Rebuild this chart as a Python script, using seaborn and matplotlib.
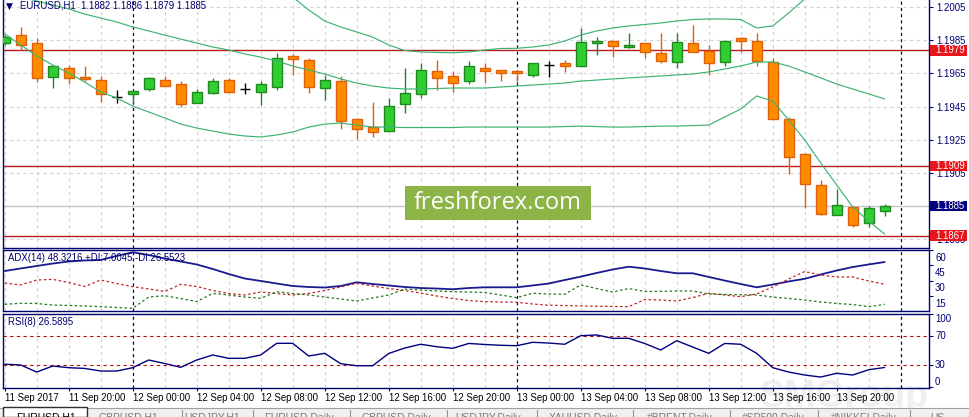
import numpy as np
import pandas as pd
import matplotlib
matplotlib.use("Agg")
import matplotlib.pyplot as plt
import matplotlib.transforms as mtransforms
from matplotlib.patches import Rectangle
import seaborn as sns

# EURUSD H1, first bar 11 Sep 2017 16:00
opens = [1.19832, 1.19883, 1.19832, 1.19630, 1.19681, 1.19630, 1.19609, 1.19510,
         1.19526, 1.19554, 1.19609, 1.19584, 1.19470, 1.19530, 1.19609, 1.19556,
         1.19540, 1.19570, 1.19754, 1.19731, 1.19560, 1.19602, 1.19373, 1.19324,
         1.19302, 1.19464, 1.19524, 1.19663, 1.19633, 1.19602, 1.19681, 1.19669,
         1.19663, 1.19639, 1.19701, 1.19711, 1.19697, 1.19832, 1.19848, 1.19812,
         1.19832, 1.19772, 1.19721, 1.19832, 1.19788, 1.19721, 1.19863, 1.19848,
         1.19721, 1.19373, 1.19163, 1.18974, 1.18792, 1.18841, 1.18744, 1.18820]
highs = [1.19880, 1.19929, 1.19863, 1.19698, 1.19701, 1.19695, 1.19635, 1.19550,
         1.19546, 1.19630, 1.19635, 1.19604, 1.19554, 1.19621, 1.19621, 1.19590,
         1.19604, 1.19772, 1.19768, 1.19745, 1.19641, 1.19635, 1.19383, 1.19479,
         1.19500, 1.19681, 1.19711, 1.19731, 1.19665, 1.19725, 1.19715, 1.19669,
         1.19663, 1.19711, 1.19725, 1.19731, 1.19923, 1.19872, 1.19848, 1.19893,
         1.19832, 1.19893, 1.19893, 1.19943, 1.19822, 1.19848, 1.19869, 1.19893,
         1.19742, 1.19387, 1.19171, 1.19006, 1.18951, 1.18851, 1.18851, 1.18860]
lows = [1.19820, 1.19792, 1.19600, 1.19560, 1.19584, 1.19604, 1.19479, 1.19470,
        1.19470, 1.19544, 1.19572, 1.19449, 1.19470, 1.19524, 1.19530, 1.19526,
        1.19460, 1.19550, 1.19641, 1.19530, 1.19490, 1.19312, 1.19252, 1.19268,
        1.19302, 1.19409, 1.19500, 1.19550, 1.19540, 1.19584, 1.19590, 1.19604,
        1.19594, 1.19630, 1.19630, 1.19660, 1.19697, 1.19762, 1.19751, 1.19802,
        1.19742, 1.19711, 1.19681, 1.19782, 1.19641, 1.19697, 1.19782, 1.19695,
        1.19372, 1.19040, 1.18838, 1.18792, 1.18792, 1.18720, 1.18720, 1.18790]
closes = [1.19869, 1.19820, 1.19621, 1.19695, 1.19621, 1.19618, 1.19524, 1.19510,
          1.19544, 1.19621, 1.19572, 1.19464, 1.19540, 1.19602, 1.19540, 1.19556,
          1.19584, 1.19742, 1.19739, 1.19570, 1.19609, 1.19363, 1.19314, 1.19294,
          1.19453, 1.19530, 1.19669, 1.19621, 1.19590, 1.19695, 1.19663, 1.19651,
          1.19651, 1.19711, 1.19701, 1.19693, 1.19842, 1.19846, 1.19818, 1.19822,
          1.19782, 1.19727, 1.19842, 1.19782, 1.19711, 1.19848, 1.19844, 1.19727,
          1.19375, 1.19147, 1.18980, 1.18800, 1.18853, 1.18732, 1.18835, 1.18850]

nan = np.nan
bb_upper = [nan] * 18 + [
    1.20112, 1.20034, 1.19967, 1.19931, 1.19901, 1.19870, 1.19822, 1.19789,
    1.19780, 1.19777, 1.19775, 1.19780, 1.19792, 1.19801, 1.19802, 1.19810,
    1.19822, 1.19846, 1.19882, 1.19907, 1.19925, 1.19937, 1.19946, 1.19955,
    1.19967, 1.19976, 1.19979, 1.19979, 1.19976, 1.19925, 1.19937, 1.20016,
    1.20100] + [nan] * 5
bb_middle = [1.20143, 1.20112, 1.20088, 1.20064, 1.20040, 1.20009, 1.19985, 1.19961,
             1.19931, 1.19907, 1.19882, 1.19858, 1.19834, 1.19810, 1.19792, 1.19768,
             1.19749, 1.19725, 1.19695, 1.19671, 1.19647, 1.19617, 1.19592, 1.19574,
             1.19562, 1.19556, 1.19556, 1.19559, 1.19562, 1.19562, 1.19562, 1.19568,
             1.19574, 1.19580, 1.19586, 1.19592, 1.19604, 1.19610, 1.19617, 1.19623,
             1.19629, 1.19635, 1.19641, 1.19647, 1.19659, 1.19677, 1.19695, 1.19719,
             1.19719, 1.19695, 1.19659, 1.19623, 1.19586, 1.19556, 1.19526, 1.19496]
bb_lower = [1.19889, 1.19822, 1.19756, 1.19701, 1.19653, 1.19598, 1.19538, 1.19502,
            1.19453, 1.19417, 1.19381, 1.19344, 1.19320, 1.19302, 1.19284, 1.19272,
            1.19266, 1.19278, 1.19296, 1.19326, 1.19344, 1.19350, 1.19338, 1.19326,
            1.19326, 1.19323, 1.19323, 1.19323, 1.19323, 1.19326, 1.19326, 1.19326,
            1.19326, 1.19326, 1.19326, 1.19329, 1.19332, 1.19329, 1.19326, 1.19326,
            1.19329, 1.19332, 1.19332, 1.19335, 1.19338, 1.19387, 1.19435, 1.19514,
            1.19483, 1.19369, 1.19248, 1.19109, 1.18976, 1.18843, 1.18758, 1.18679]

adx = [39.5, 42.0, 44.4, 46.8, 48.8, 49.8, 50.3, 54.2, 57.8, 55.1, 51.7, 48.8,
       45.9, 41.5, 36.6, 32.2, 29.8, 27.3, 24.9, 23.9, 23.4, 24.9, 28.5, 26.8,
       25.4, 23.9, 22.9, 22.4, 21.7, 22.9, 23.6, 23.6, 23.6, 25.4, 27.3, 30.7,
       34.0, 37.6, 41.0, 43.7, 42.0, 39.5, 37.3, 37.3, 33.7, 30.2, 26.8, 23.6,
       26.3, 29.3, 31.9, 36.1, 40.0, 43.4, 45.9, 48.3]
minus_di = [27.8, 25.9, 30.7, 31.4, 28.3, 24.4, 30.7, 27.3, 24.2, 22.0, 19.5, 26.5,
            24.4, 20.5, 17.6, 16.1, 19.0, 17.6, 16.1, 17.6, 20.5, 23.9, 27.5, 24.9,
            22.4, 20.5, 18.0, 15.1, 12.7, 10.7, 9.6, 9.3, 9.0, 7.3, 6.1, 5.8,
            5.4, 5.1, 4.9, 4.7, 11.7, 11.2, 10.2, 13.6, 17.8, 16.1, 14.4, 17.1,
            23.9, 31.7, 39.0, 35.6, 33.7, 33.7, 29.8, 26.6]
plus_di = [7.0, 8.0, 7.8, 6.3, 5.9, 5.4, 4.7, 3.9, 3.1, 14.1, 15.4, 12.7,
           9.7, 17.6, 16.1, 14.1, 12.9, 19.3, 17.6, 16.1, 14.1, 12.2, 10.2, 13.2,
           16.1, 21.9, 20.9, 20.0, 19.3, 19.0, 18.5, 16.1, 13.5, 17.8, 17.1, 16.8,
           25.9, 22.4, 19.0, 22.4, 19.5, 19.7, 20.0, 20.0, 17.1, 16.6, 16.4, 16.1,
           14.1, 12.7, 11.2, 9.3, 7.8, 6.8, 4.7, 7.0]
rsi = [31.1, 30.0, 20.3, 28.6, 26.3, 25.3, 21.7, 21.7, 26.3, 36.9, 32.1, 26.8,
       36.9, 43.8, 39.2, 39.2, 43.8, 59.9, 59.9, 42.4, 46.1, 31.8, 29.0, 29.0,
       45.9, 53.4, 58.6, 55.2, 53.0, 59.7, 58.3, 57.2, 56.6, 61.3, 60.3, 58.6,
       70.4, 71.4, 66.8, 66.8, 59.7, 50.7, 63.5, 54.8, 46.1, 59.7, 58.6, 46.1,
       26.3, 20.3, 16.2, 13.4, 18.6, 16.2, 23.5, 26.6]

levels = [1.1979, 1.1909, 1.1867]
bid = 1.1885
price_ticks = [1.2005, 1.1985, 1.1965, 1.1945, 1.1925, 1.1905, 1.1885, 1.1865]
adx_ticks = [60, 45, 30, 15]
rsi_ticks = [100, 70, 30, 0]
rsi_levels = [70, 30]
adx_title = "ADX(14) 48.3216 +DI:7.0045 -DI:26.5523"
rsi_title = "RSI(8) 26.5895"
tabs = ["EURUSD,H1", "GBPUSD,H1", "USDJPY,H1", "EURUSD,Daily", "GBPUSD,Daily",
        "USDJPY,Daily", "XAUUSD,Daily", "#BRENT,Daily", "#SP500,Daily",
        "#NIKKEI,Daily", "US"]

times = pd.date_range("2017-09-11 16:00", periods=len(opens), freq="h")
df = pd.DataFrame({"i": np.arange(len(opens)), "time": times,
                   "open": opens, "high": highs, "low": lows, "close": closes,
                   "bb_up": bb_upper, "bb_mid": bb_middle, "bb_low": bb_lower,
                   "adx": adx, "pdi": plus_di, "mdi": minus_di, "rsi": rsi})

sns.set_theme(style="white")
plt.rcParams["font.family"] = ["Liberation Sans", "DejaVu Sans"]
FS = 6.9
NAVY = "#000070"
GREEN, GREEN_E = "#32cd32", "#1f8a1f"
ORANGE, ORANGE_E = "#ff8c00", "#e0600a"
RED_LINE = "#b81c1c"
BAND = "#3cb371"
GRID = "#d4d4d4"

W, H = 969, 417
fig = plt.figure(figsize=(W / 100, H / 100), dpi=100)


def fx(px):
    return px / W


def fy(py):
    return 1 - py / H


x0, step = 4.7, 16.0  # pixel centre of first bar, pixels per bar
left, right = 3, 929
ax = fig.add_axes([fx(left), fy(247.5), (right - left) / W, 247.5 / H])
ax_adx = fig.add_axes([fx(left), fy(311), (right - left) / W, 61.5 / H], sharex=ax)
ax_rsi = fig.add_axes([fx(left), fy(387.5), (right - left) / W, 74 / H], sharex=ax)
ax.set_xlim((left - x0) / step, (right - x0) / step)
ax.set_ylim(1.18598, 1.20094)
ax_adx.set_ylim(0.48, 60.5)
ax_rsi.set_ylim(-1.0, 101.0)

even = df["i"][df["i"] % 2 == 0]
day_breaks = list(df["i"][df["time"].dt.hour == 0]) + [len(df)]

for a in (ax, ax_adx, ax_rsi):
    a.set_facecolor("none")
    for s in a.spines.values():
        s.set_color(NAVY)
        s.set_linewidth(1.0)
    for xv in even:
        if xv not in day_breaks:
            a.axvline(xv, color=GRID, lw=0.8, ls=(0, (3, 3)), zorder=0)
    for xv in day_breaks:
        a.axvline(xv, color=NAVY, lw=0.9, ls=(0, (2.5, 2.5)), zorder=1)
    a.tick_params(axis="x", bottom=False, labelbottom=False)
ax.spines["top"].set_visible(False)

# main price panel
for p in price_ticks:
    ax.axhline(p, color=GRID, lw=0.8, ls=(0, (3, 3)), zorder=0)
ax.axhline(bid, color="#c8c8c8", lw=1.0, zorder=1)
for p in levels:
    ax.axhline(p, color=RED_LINE, lw=1.0, zorder=2)

o, c = df["open"].to_numpy(), df["close"].to_numpy()
hi, lo = df["high"].to_numpy(), df["low"].to_numpy()
idx = df["i"].to_numpy()
bw = 10 / step
for mask, fill, edge in ((c > o, GREEN, GREEN_E), (c < o, ORANGE, ORANGE_E)):
    ax.vlines(idx[mask], lo[mask], hi[mask], color=edge, lw=1.0, zorder=3)
    ax.bar(idx[mask], (c - o)[mask], bottom=o[mask], width=bw, color=fill,
           edgecolor=edge, linewidth=1.0, zorder=4)
doji = c == o
ax.vlines(idx[doji], lo[doji], hi[doji], color="black", lw=1.0, zorder=4)
ax.hlines(o[doji], idx[doji] - bw / 2, idx[doji] + bw / 2, color="black", lw=1.0, zorder=4)

for col in ("bb_up", "bb_mid", "bb_low"):
    sns.lineplot(data=df, x="i", y=col, ax=ax, color=BAND, lw=0.85,
                 estimator=None, sort=False, zorder=5)
ax.set_xlabel("")
ax.set_ylabel("")

ax.yaxis.tick_right()
ax.set_yticks(price_ticks)
ax.set_yticklabels([f"{p:.4f}" for p in price_ticks])
ax.tick_params(axis="y", length=3, width=0.8, color=NAVY, labelcolor=NAVY,
               labelsize=FS, pad=2.5, right=True, left=False)

box_h = 10.5 * (1.20094 - 1.18598) / 247.5
box_tr = mtransforms.blended_transform_factory(fig.transFigure, ax.transData)
for p, colr in [(levels[0], "#e8141c"), (levels[1], "#e8141c"),
                (bid, "#000080"), (levels[2], "#e8141c")]:
    ax.add_patch(Rectangle((fx(930), p - box_h / 2), 37 / W, box_h, transform=box_tr,
                           facecolor=colr, edgecolor="none", clip_on=False, zorder=6))
    ax.text(fx(935), p, f"{p:.4f}", transform=box_tr, color="white", fontsize=FS,
            va="center", ha="left", zorder=7, clip_on=False)

last = df.iloc[-1]
fig.text(fx(6), fy(6), "\u25bc", color=NAVY, fontsize=6.5, va="center", ha="left",
         family=["DejaVu Sans"])
fig.text(fx(20), fy(6),
         f"EURUSD,H1  {last['open']:.4f} {last['high']:.4f} {last['low']:.4f} {last['close']:.4f}",
         color=NAVY, fontsize=FS, va="center", ha="left")

# ADX panel
sns.lineplot(data=df, x="i", y="adx", ax=ax_adx, color="#1a1a90", lw=1.3,
             estimator=None, sort=False)
sns.lineplot(data=df, x="i", y="mdi", ax=ax_adx, color="#c02222", lw=0.9,
             estimator=None, sort=False, linestyle=(0, (2, 2)))
sns.lineplot(data=df, x="i", y="pdi", ax=ax_adx, color="#1d7a1d", lw=0.9,
             estimator=None, sort=False, linestyle=(0, (2, 2)))
ax_adx.set_xlabel("")
ax_adx.set_ylabel("")
ax_adx.yaxis.tick_right()
ax_adx.set_yticks(adx_ticks, labels=[])
ax_adx.tick_params(axis="y", length=3, width=0.8, color=NAVY)
lab_tr = mtransforms.offset_copy(ax_adx.get_yaxis_transform(), fig=fig, x=6, y=-7.5,
                                 units="dots")
for t in adx_ticks:
    ax_adx.text(1.0, t, str(t), transform=lab_tr, color=NAVY, fontsize=FS,
                va="center", ha="left", clip_on=False)
ax_adx.text(0.0055, 0.86, adx_title, transform=ax_adx.transAxes,
            color=NAVY, fontsize=FS, va="center", ha="left")

# RSI panel
for lv in rsi_levels:
    ax_rsi.axhline(lv, color="#b01010", lw=0.8, ls=(0, (3, 3)), zorder=1)
sns.lineplot(data=df, x="i", y="rsi", ax=ax_rsi, color="#000080", lw=1.0,
             estimator=None, sort=False)
ax_rsi.set_ylabel("")
ax_rsi.yaxis.tick_right()
ax_rsi.set_yticks(rsi_ticks, labels=[])
ax_rsi.tick_params(axis="y", length=3, width=0.8, color=NAVY)
rsi_tr = mtransforms.offset_copy(ax_rsi.get_yaxis_transform(), fig=fig, x=6, y=0,
                                 units="dots")
for t in rsi_ticks:
    va = "top" if t == 100 else ("bottom" if t == 0 else "center")
    ax_rsi.text(1.0, t, str(t), transform=rsi_tr, color=NAVY, fontsize=FS,
                va=va, ha="left", clip_on=False)
ax_rsi.text(0.0055, 0.88, rsi_title, transform=ax_rsi.transAxes, color=NAVY,
            fontsize=FS, va="center", ha="left")

tick_pos = df["i"][df["i"] % 4 == 0]
tick_lab = [("11 Sep 2017" if k == 0 else df["time"][k].strftime("%d %b %H:%M"))
            for k in tick_pos]
ax_rsi.set_xticks(tick_pos, labels=tick_lab, ha="left")
ax_rsi.tick_params(axis="x", bottom=True, labelbottom=True, length=2.5, width=0.8,
                   color=NAVY, labelcolor="black", labelsize=FS, pad=1.7)
ax_rsi.set_xlabel("")

# faint watermark, logo box and the terminal's tab bar
fig.text(fx(760), fy(397), "SMGroup", fontsize=27, color="#efefef", ha="left",
         va="center", fontweight="bold", zorder=-1)
fig.patches.append(Rectangle((fx(405), fy(220)), 186 / W, 34 / H, transform=fig.transFigure,
                             facecolor="#8cb446", edgecolor="none", zorder=10))
fig.text(fx(498), fy(203), "freshforex.com", color="white", fontsize=17,
         family=["Open Sans", "DejaVu Sans"], ha="center", va="center", zorder=11)

fig.patches.append(Rectangle((0, 0), 1, 9.5 / H, transform=fig.transFigure,
                             facecolor="#f0f0f0", edgecolor="none", zorder=10))
fig.lines.append(plt.Line2D([0, 1], [fy(408), fy(408)], transform=fig.transFigure,
                            color="#a0a0a0", lw=0.8, zorder=11))
fig.patches.append(Rectangle((fx(3), 0), 84 / W, 10 / H, transform=fig.transFigure,
                             facecolor="white", edgecolor="#303030", lw=1.0, zorder=12))
seps = [88, 182, 253, 350, 447, 537, 633, 730, 818, 910]
centers = [46, 128, 212, 299, 396, 488, 583, 680, 773, 864, 930]
for s in seps[1:]:
    fig.lines.append(plt.Line2D([fx(s), fx(s)], [0, fy(410)], transform=fig.transFigure,
                                color="#909090", lw=0.8, zorder=12))
for k, (name, cx) in enumerate(zip(tabs, centers)):
    fig.text(fx(cx), fy(421), name, color="black" if k == 0 else "#7a7a7a",
             fontsize=7.5, ha="center" if k < len(tabs) - 1 else "left",
             va="baseline", zorder=13)

fig.savefig("out.png", dpi=100, facecolor="white")
